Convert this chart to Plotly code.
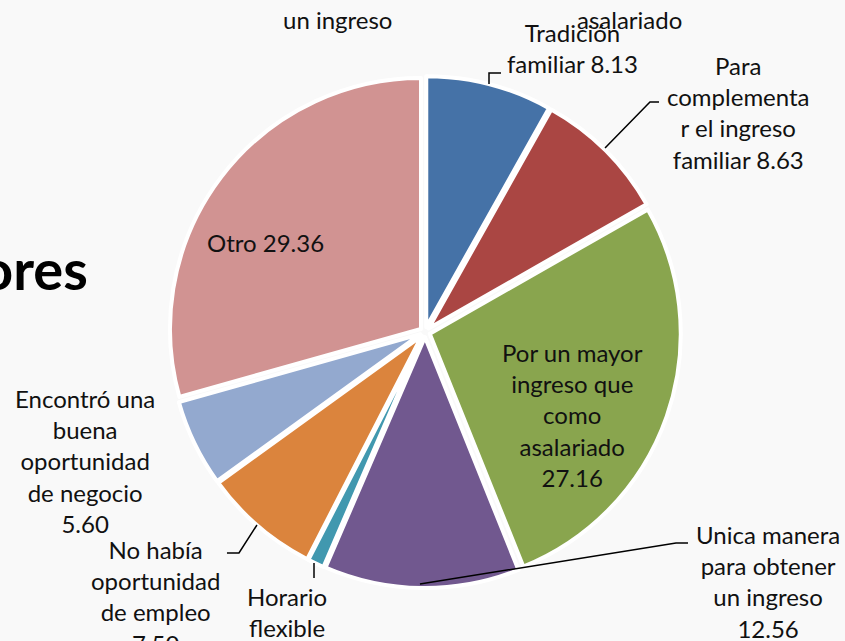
import plotly.graph_objects as go

# data (percent)
labels = [
    "Tradición familiar",
    "Para complementar el ingreso familiar",
    "Por un mayor ingreso que como asalariado",
    "Unica manera para obtener un ingreso",
    "Horario flexible",
    "No había oportunidad de empleo",
    "Encontró una buena oportunidad de negocio",
    "Otro",
]
values = [8.13, 8.63, 27.16, 12.56, 1.06, 7.50, 5.60, 29.36]
colors = ["#4572A7", "#AA4643", "#89A54E", "#71588F", "#4198AF", "#DB843D", "#93A9CF", "#D19392"]

# how each label is broken into lines (as in the slide)
label_lines = [
    ["Tradición", "familiar {v}"],
    ["Para", "complementa", "r el ingreso", "familiar {v}"],
    ["Por un mayor", "ingreso que", "como", "asalariado", "{v}"],
    ["Unica manera", "para obtener", "un ingreso", "{v}"],
    ["Horario", "flexible", "{v}"],
    ["No había", "oportunidad", "de empleo", "{v}"],
    ["Encontró una", "buena", "oportunidad", "de negocio", "{v}"],
    ["Otro {v}"],
]

W, H = 845, 641
FONT = "Lato, Calibri, sans-serif"
FS = 24


def px(x, y):
    return x / W, 1 - y / H


# label centres in pixels
label_pos = [(572, 48), (738, 112), (572, 415), (768, 581), (287, 627), (155, 596), (85, 461), (265, 242)]

# leader lines (pixels)
leaders = [
    [(489, 84), (489, 73), (501, 73)],
    [(605, 148), (650, 102), (659, 102)],
    [(420, 584), (676, 543), (688, 543)],
    [(314, 563), (314, 578)],
    [(257, 525), (239, 553), (227, 553)],
]

cx, cy, R, pull = 425, 332, 251, 0.02
half = R * (1 + pull)

fig = go.Figure(go.Pie(
    labels=labels,
    values=values,
    sort=False,
    direction="clockwise",
    rotation=0,
    pull=[pull] * len(values),
    marker=dict(colors=colors, line=dict(color="white", width=4)),
    textinfo="none",
    hoverinfo="skip",
    domain=dict(x=[(cx - half) / W, (cx + half) / W],
                y=[1 - (cy + half) / H, 1 - (cy - half) / H]),
))

annotations = []
for lines, v, (x, y) in zip(label_lines, values, label_pos):
    txt = "<br>".join(l.format(v=f"{v:.2f}") for l in lines)
    xp, yp = px(x, y)
    annotations.append(dict(x=xp, y=yp, xref="paper", yref="paper", text=txt,
                            showarrow=False, align="center", xanchor="center", yanchor="middle",
                            font=dict(family=FONT, size=FS, color="#111")))

# leftovers from the slide behind the chart
for t, x, y in [("un ingreso", 337, 20), ("asalariado", 629, 20)]:
    xp, yp = px(x, y)
    annotations.append(dict(x=xp, y=yp, xref="paper", yref="paper", text=t, showarrow=False,
                            xanchor="center", yanchor="middle",
                            font=dict(family=FONT, size=FS, color="#111")))
xp, yp = px(90, 268)
annotations.append(dict(x=xp, y=yp, xref="paper", yref="paper", text="<b>ores</b>", showarrow=False,
                        xanchor="right", yanchor="middle",
                        font=dict(family=FONT, size=56, color="#000")))

shapes = []
for pts in leaders:
    path = "M " + " L ".join(f"{px(x, y)[0]:.4f},{px(x, y)[1]:.4f}" for x, y in pts)
    shapes.append(dict(type="path", xref="paper", yref="paper", path=path,
                       line=dict(color="#000", width=1.5)))

fig.update_layout(
    width=W, height=H,
    margin=dict(l=0, r=0, t=0, b=0),
    paper_bgcolor="#f9f9f9",
    plot_bgcolor="#f9f9f9",
    showlegend=False,
    annotations=annotations,
    shapes=shapes,
)

fig.write_html("out.html", config={"displayModeBar": False},
               post_script="document.body.style.margin='0';document.body.style.overflow='hidden';")
